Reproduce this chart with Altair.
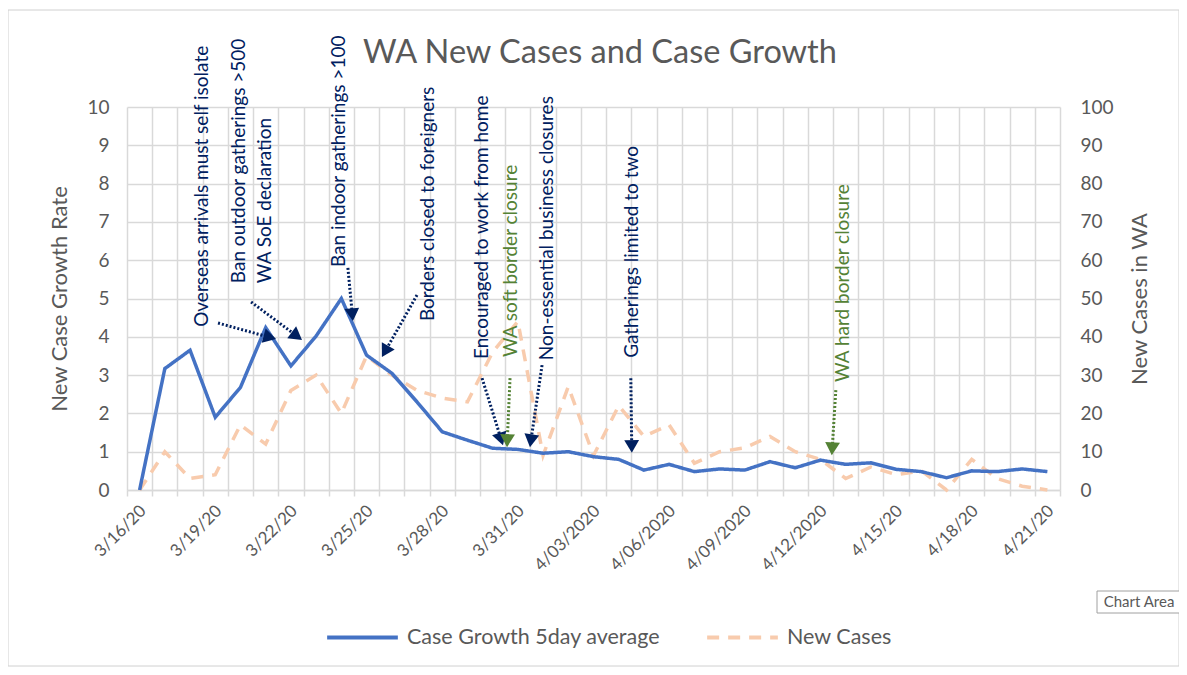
import math
import altair as alt
import pandas as pd

# ---------------- data ----------------
day_index = list(range(37))  # 3/16/20 ... 4/21/20
growth = [0, 3.17, 3.65, 1.90, 2.68, 4.24, 3.24, 4.02, 5.0, 3.52, 3.05, 2.3, 1.52,
          1.30, 1.09, 1.06, 0.96, 1.0, 0.87, 0.80, 0.52, 0.67, 0.48, 0.55, 0.52,
          0.74, 0.58, 0.78, 0.67, 0.71, 0.54, 0.48, 0.32, 0.50, 0.48, 0.55, 0.48]
new_cases = [0, 10, 3, 4, 17, 12, 26, 30, 20, 35, 30, 26, 24, 23, 36, 44, 9, 27,
             9, 22, 14, 17, 7, 10, 11, 14, 10, 8, 3, 6, 4, 5, 0, 8, 3, 1, 0]
tick_labels = ["3/16/20", "3/19/20", "3/22/20", "3/25/20", "3/28/20", "3/31/20",
               "4/03/2020", "4/06/2020", "4/09/2020", "4/12/2020", "4/15/20",
               "4/18/20", "4/21/20"]
series_names = ["Case Growth 5day average", "New Cases"]
chart_title = ["WA New Cases and Case Growth"]

NAVY = "#002060"
GREEN = "#548235"

ann_text = ["Overseas arrivals must self isolate", "Ban outdoor gatherings >500",
            "WA SoE declaration", "Ban indoor gatherings >100",
            "Borders closed to foreigners", "Encouraged to work from home",
            "WA soft border closure", "Non-essential business closures",
            "Gatherings limited to two", "WA hard border closure"]
ann_x = [2.47, 3.94, 4.97, 7.91, 11.43, 13.58, 14.73, 16.15, 19.52, 27.89]
ann_y = [4.26, 5.40, 5.40, 5.82, 4.41, 3.42, 3.47, 3.39, 3.45, 2.82]
ann_color = [NAVY, NAVY, NAVY, NAVY, NAVY, NAVY, GREEN, NAVY, NAVY, GREEN]

arrow_x0 = [3.11, 4.42, 8.26, 11.0, 13.58, 14.69, 15.96, 19.48, 27.61]
arrow_y0 = [4.36, 4.91, 5.80, 5.09, 2.92, 2.92, 3.26, 2.92, 2.61]
arrow_x1 = [5.41, 6.44, 8.46, 9.61, 14.41, 14.57, 15.48, 19.52, 27.45]
arrow_y1 = [3.94, 3.92, 4.41, 3.47, 1.17, 1.12, 1.12, 0.97, 0.91]
arrow_color = [NAVY, NAVY, NAVY, NAVY, NAVY, GREEN, NAVY, NAVY, GREEN]

# ---------------- layout ----------------
W, H = 933, 383
PX_X = W / 37.0
PX_Y = H / 10.0
HEAD = 6.4  # distance from triangle centre to tip (px)
FONT = "Lato"
GREY = "#595959"

growth_df = pd.DataFrame({"i": day_index, "series": series_names[0], "v": growth})
cases_df = pd.DataFrame({"i": day_index, "series": series_names[1], "v": new_cases})
ann_df = pd.DataFrame({"x": ann_x, "y": ann_y, "t": ann_text, "c": ann_color})

rows = []
for x0, y0, x1, y1, c in zip(arrow_x0, arrow_y0, arrow_x1, arrow_y1, arrow_color):
    dx = (x1 - x0) * PX_X
    dy = -(y1 - y0) * PX_Y  # screen coords (down positive)
    L = math.hypot(dx, dy)
    ux, uy = dx / L, dy / L
    cx = x1 - ux * HEAD / PX_X
    cy = y1 + uy * HEAD / PX_Y
    ang = math.degrees(math.atan2(dx, -dy)) % 360
    rows.append({"x0": x0, "y0": y0, "xe": cx, "ye": cy, "ang": ang, "c": c})
arrow_df = pd.DataFrame(rows)

x_values = [k - 0.5 for k in range(38)]
label_arr = "[" + ",".join("'" + t + "'" for t in tick_labels) + "]"
label_expr = "((datum.value + 0.5) % 3 == 0) ? " + label_arr + "[(datum.value + 0.5) / 3] : ''"

x_scale = alt.Scale(domain=[-0.5, 36.5], nice=False, zero=False)
x_axis = alt.Axis(values=x_values, labelExpr=label_expr, labelAngle=315,
                  labelAlign="right", labelBaseline="middle", labelOffset=16,
                  labelPadding=12, labelFontSize=17, labelOverlap=False,
                  labelFlush=False, labelBound=False, grid=True, ticks=True,
                  tickSize=6, tickColor="#d9d9d9", tickWidth=1.5,
                  domainColor="#d9d9d9", domainWidth=1.5, title=None)


def X(field):
    return alt.X(field + ":Q", scale=x_scale, axis=x_axis)


def legend():
    return alt.Legend(orient="none", legendX=198, legendY=493,
                      direction="horizontal", title=None,
                      symbolType="stroke", symbolSize=5000,
                      symbolStrokeWidth=4, labelFontSize=21.5,
                      labelFont=FONT, labelColor=GREY, labelLimit=0,
                      columnPadding=38, labelOffset=7)


color = alt.Color("series:N", scale=alt.Scale(domain=series_names, range=["#4472C4", "#F8CBAD"]),
                  legend=legend())
dash = alt.StrokeDash("series:N", scale=alt.Scale(domain=series_names, range=[[1, 0], [12, 9]]),
                      legend=legend())

y_left = alt.Y("v:Q", scale=alt.Scale(domain=[0, 10], nice=False),
               axis=alt.Axis(orient="left", values=list(range(11)), title="New Case Growth Rate",
                             grid=True, gridColor="#d9d9d9", gridWidth=1.5, domain=False,
                             ticks=False, labelPadding=18, titlePadding=15,
                             labelFontSize=19, titleFontSize=22))
y_right = alt.Y("v:Q", scale=alt.Scale(domain=[0, 100], nice=False),
                axis=alt.Axis(orient="right", values=list(range(0, 101, 10)), title="New Cases in WA",
                              titleAngle=270, grid=False, domain=False, ticks=False,
                              labelPadding=20, titlePadding=38, labelFontSize=19,
                              titleFontSize=22))

ann_y_scale = alt.Scale(domain=[0, 10], nice=False)

peach = alt.Chart(cases_df).mark_line(strokeWidth=3.5).encode(
    x=X("i"), y=y_right, color=color, strokeDash=dash)
blue = alt.Chart(growth_df).mark_line(strokeWidth=3.5).encode(
    x=X("i"), y=y_left, color=color, strokeDash=dash)

texts = alt.Chart(ann_df).mark_text(angle=270, align="left", baseline="middle",
                                    font=FONT, fontSize=19).encode(
    x=X("x"), y=alt.Y("y:Q", scale=ann_y_scale, axis=None),
    text="t:N", color=alt.Color("c:N", scale=None))

arrows = alt.Chart(arrow_df).mark_rule(strokeWidth=3, strokeDash=[2, 2]).encode(
    x=X("x0"), y=alt.Y("y0:Q", scale=ann_y_scale, axis=None),
    x2="xe:Q", y2="ye:Q", color=alt.Color("c:N", scale=None))

heads = alt.Chart(arrow_df).mark_point(shape="triangle-up", filled=True, size=220, opacity=1).encode(
    x=X("xe"), y=alt.Y("ye:Q", scale=ann_y_scale, axis=None),
    angle=alt.Angle("ang:Q", scale=None), color=alt.Color("c:N", scale=None))

title_df = pd.DataFrame({"t": chart_title})
title = alt.Chart(title_df).mark_text(font=FONT, fontSize=32.5, color=GREY, align="center",
                                      baseline="middle").encode(
    x=alt.value(473), y=alt.value(-54), text="t:N")

deco_df = pd.DataFrame({"t": ["Chart Area"]})
border = alt.Chart(deco_df).mark_rect(fillOpacity=0, stroke="#d0d0d0", strokeWidth=1).encode(
    x=alt.value(-119), x2=alt.value(1052), y=alt.value(-97), y2=alt.value(559))
tip_box = alt.Chart(deco_df).mark_rect(fill="white", stroke="#a0a0a0", strokeWidth=1).encode(
    x=alt.value(970), x2=alt.value(1054), y=alt.value(484), y2=alt.value(506))
tip_text = alt.Chart(deco_df).mark_text(font=FONT, fontSize=15, color=GREY, align="center",
                                        baseline="middle").encode(
    x=alt.value(1012), y=alt.value(495), text="t:N")

chart = alt.layer(border, peach, blue, texts, arrows, heads, title, tip_box, tip_text).resolve_scale(
    y="independent"
).properties(
    width=W, height=H,
    autosize=alt.AutoSizeParams(type="none"),
    padding={"left": 119, "top": 99, "right": 119, "bottom": 177},
).configure_view(stroke=None).configure_axis(
    labelFont=FONT, titleFont=FONT, labelColor=GREY, titleColor=GREY,
    titleFontWeight="normal", gridColor="#d9d9d9", gridWidth=1.5
)

chart.save("out.html", embed_options={"renderer": "svg", "actions": False})
